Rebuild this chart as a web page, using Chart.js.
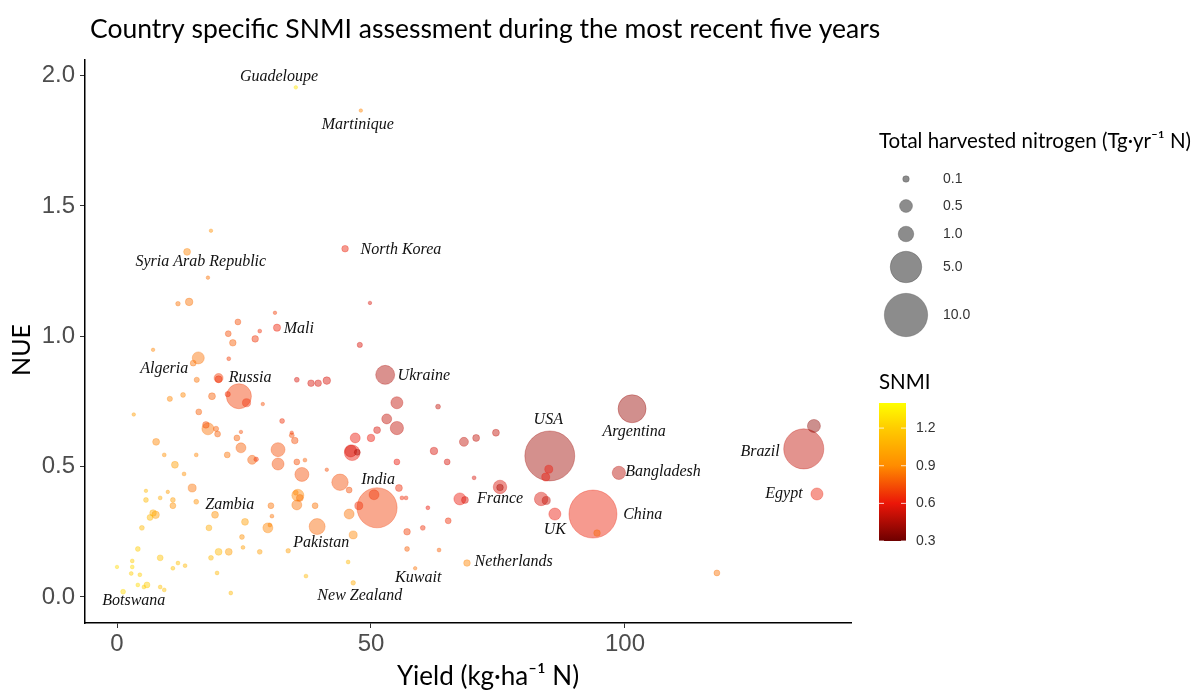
<!DOCTYPE html>
<html>
<head>
<meta charset="utf-8">
<script src="https://cdn.jsdelivr.net/npm/chart.js@4.4.0/dist/chart.umd.min.js"></script>
<style>
html, body { margin: 0; padding: 0; background: #fff; }
</style>
</head>
<body>
<canvas id="myChart" width="1200" height="691"></canvas>
<script>
// yield (kg/ha N), NUE, harvested N (Tg/yr N), SNMI  -- one entry per country
const yieldVals = [
  35.2, 48.0, 44.9, 13.8, 18.5, 17.9, 12.0, 14.2, 31.1, 23.8,
  28.1, 31.5, 21.9, 22.8, 27.2, 49.8, 47.8, 7.1, 22.0, 16.0,
  15.0, 20.0, 20.0, 15.7, 24.0, 21.8, 25.5, 35.4, 38.2, 39.6,
  41.3, 52.8, 18.7, 28.7, 16.1, 10.4, 13.0, 3.3, 32.5, 17.9,
  17.5, 19.5, 19.8, 24.4, 23.6, 24.4, 21.7, 26.6, 27.4, 34.4,
  34.4, 35.0, 31.7, 31.7, 35.4, 36.4, 35.6, 35.2, 36.0, 35.4,
  39.0, 41.3, 43.9, 45.7, 45.7, 47.6, 46.3, 46.0, 47.3, 46.9,
  50.0, 51.2, 53.1, 55.1, 55.1, 63.2, 62.4, 55.1, 65.0, 68.3,
  70.7, 74.6, 70.3, 75.4, 75.4, 67.5, 68.5, 61.2, 65.2, 60.2,
  57.1, 55.5, 56.1, 56.9, 51.2, 50.6, 46.5, 39.4, 30.1, 33.7,
  45.5, 37.2, 46.5, 57.1, 63.4, 68.9, 58.7, 7.7, 9.3, 15.6,
  11.4, 13.2, 14.8, 5.7, 10.0, 5.7, 8.5, 11.0, 11.0, 15.6,
  7.1, 7.6, 6.5, 19.3, 30.3, 30.5, 25.2, 29.7, 4.9, 18.1,
  24.6, 24.8, 20.0, 22.0, 28.1, 18.5, 4.1, 8.5, 3.0, 11.0,
  12.0, 13.4, 3.0, 2.8, 4.5, 5.9, 5.3, 4.1, 8.5, 9.3,
  1.2, 19.7, 22.4, 0.0, 85.2, 85.0, 84.4, 83.5, 84.5, 86.2,
  93.7, 94.5, 101.4, 98.8, 118.1, 135.2, 137.2, 137.8, 37.0
];
const nueVals = [
  1.955, 1.866, 1.336, 1.324, 1.405, 1.225, 1.125, 1.132, 1.090, 1.055,
  1.020, 1.033, 1.010, 0.975, 0.990, 1.128, 0.967, 0.948, 0.914, 0.917,
  0.897, 0.840, 0.835, 0.833, 0.770, 0.778, 0.745, 0.833, 0.820, 0.820,
  0.830, 0.852, 0.770, 0.740, 0.710, 0.760, 0.775, 0.700, 0.675, 0.645,
  0.660, 0.645, 0.625, 0.633, 0.610, 0.572, 0.545, 0.526, 0.528, 0.630,
  0.620, 0.600, 0.565, 0.510, 0.518, 0.470, 0.390, 0.400, 0.380, 0.353,
  0.350, 0.488, 0.440, 0.410, 0.318, 0.350, 0.553, 0.560, 0.555, 0.610,
  0.610, 0.640, 0.683, 0.745, 0.648, 0.730, 0.560, 0.518, 0.518, 0.595,
  0.610, 0.630, 0.457, 0.422, 0.420, 0.376, 0.372, 0.342, 0.292, 0.265,
  0.250, 0.418, 0.380, 0.380, 0.342, 0.392, 0.238, 0.270, 0.276, 0.177,
  0.134, 0.080, 0.054, 0.184, 0.180, 0.130, 0.110, 0.595, 0.545, 0.545,
  0.507, 0.472, 0.418, 0.407, 0.403, 0.372, 0.380, 0.372, 0.350, 0.365,
  0.322, 0.315, 0.305, 0.315, 0.350, 0.310, 0.288, 0.265, 0.265, 0.265,
  0.230, 0.190, 0.173, 0.173, 0.173, 0.150, 0.184, 0.150, 0.138, 0.110,
  0.130, 0.120, 0.115, 0.090, 0.085, 0.046, 0.038, 0.046, 0.038, 0.027,
  0.020, 0.092, 0.015, 0.115, 0.541, 0.490, 0.460, 0.376, 0.370, 0.318,
  0.318, 0.245, 0.722, 0.476, 0.092, 0.568, 0.656, 0.395, 0.525
];
const harvestN = [
  0.01, 0.01, 0.10, 0.12, 0.01, 0.01, 0.04, 0.16, 0.01, 0.08,
  0.02, 0.14, 0.08, 0.10, 0.10, 0.01, 0.06, 0.01, 0.02, 0.44,
  0.08, 0.25, 0.12, 0.06, 3.35, 0.06, 0.20, 0.05, 0.10, 0.10,
  0.16, 1.85, 0.12, 0.01, 0.08, 0.06, 0.05, 0.01, 0.05, 0.44,
  0.10, 0.06, 0.08, 0.01, 0.08, 0.31, 0.08, 0.25, 0.04, 0.01,
  0.05, 0.10, 0.69, 0.44, 0.08, 0.69, 0.44, 0.05, 0.12, 0.31,
  0.08, 0.01, 1.20, 0.08, 0.31, 0.19, 1.00, 0.44, 0.08, 0.31,
  0.16, 0.12, 0.31, 0.44, 0.55, 0.05, 0.16, 0.08, 0.08, 0.25,
  0.12, 0.12, 0.02, 0.60, 0.10, 0.44, 0.12, 0.02, 0.08, 0.05,
  0.10, 0.12, 0.02, 0.02, 8.60, 0.31, 0.19, 1.10, 0.02, 0.04,
  0.02, 0.02, 0.04, 0.05, 0.02, 0.10, 0.01, 0.12, 0.02, 0.02,
  0.12, 0.02, 0.19, 0.01, 0.01, 0.05, 0.02, 0.05, 0.08, 0.05,
  0.10, 0.16, 0.08, 0.12, 0.08, 0.02, 0.12, 0.31, 0.05, 0.08,
  0.05, 0.02, 0.12, 0.12, 0.05, 0.05, 0.05, 0.08, 0.02, 0.02,
  0.02, 0.02, 0.02, 0.02, 0.02, 0.08, 0.02, 0.02, 0.02, 0.02,
  0.05, 0.02, 0.02, 0.01, 13.4, 0.19, 0.19, 0.60, 0.20, 0.44,
  12.4, 0.10, 4.10, 0.55, 0.08, 8.60, 0.50, 0.44, 0.02
];
const snmiVals = [
  1.30, 0.88, 0.62, 0.88, 0.92, 0.83, 0.83, 0.83, 0.70, 0.74,
  0.66, 0.63, 0.74, 0.78, 0.68, 0.55, 0.55, 0.88, 0.70, 0.83,
  0.83, 0.70, 0.66, 0.83, 0.70, 0.66, 0.66, 0.55, 0.55, 0.55,
  0.55, 0.45, 0.78, 0.74, 0.78, 0.88, 0.88, 0.98, 0.66, 0.83,
  0.74, 0.78, 0.78, 0.74, 0.78, 0.78, 0.83, 0.78, 0.68, 0.70,
  0.74, 0.74, 0.74, 0.74, 0.74, 0.74, 0.88, 0.88, 0.83, 0.83,
  0.83, 0.74, 0.74, 0.74, 0.83, 0.66, 0.60, 0.55, 0.45, 0.60,
  0.60, 0.55, 0.50, 0.50, 0.50, 0.50, 0.55, 0.60, 0.55, 0.50,
  0.50, 0.50, 0.55, 0.55, 0.45, 0.60, 0.55, 0.60, 0.66, 0.66,
  0.70, 0.65, 0.65, 0.65, 0.70, 0.68, 0.88, 0.80, 0.88, 0.98,
  1.10, 1.10, 1.04, 0.78, 0.78, 0.88, 0.83, 0.88, 0.92, 0.88,
  0.98, 0.92, 0.83, 1.10, 0.98, 1.10, 1.04, 0.98, 0.92, 0.92,
  1.04, 0.98, 1.10, 0.92, 0.83, 0.83, 0.98, 0.88, 1.10, 1.04,
  0.92, 0.98, 1.10, 0.98, 0.98, 1.10, 1.20, 1.15, 1.20, 1.15,
  1.15, 1.10, 1.25, 1.20, 1.20, 1.20, 1.20, 1.25, 1.15, 1.15,
  1.25, 1.10, 1.10, 1.25, 0.42, 0.60, 0.60, 0.55, 0.50, 0.60,
  0.62, 0.80, 0.40, 0.48, 0.83, 0.50, 0.38, 0.62, 0.78
];

// annotated countries (text anchored in data units)
const labelNames = ['Guadeloupe', 'Martinique', 'North Korea', 'Syria Arab Republic', 'Mali', 'Algeria',
  'Russia', 'Ukraine', 'USA', 'Argentina', 'Brazil', 'Bangladesh', 'Egypt', 'India', 'France', 'UK',
  'China', 'Zambia', 'Pakistan', 'Netherlands', 'Kuwait', 'New Zealand', 'Botswana'];
const labelX = [31.9, 47.4, 55.9, 16.5, 35.8, 9.3, 26.2, 60.4, 84.9, 101.8, 126.6, 107.5, 131.3,
  51.4, 75.4, 86.2, 103.5, 22.2, 40.2, 78.1, 59.3, 47.8, 3.3];
const labelY = [1.997, 1.812, 1.332, 1.286, 1.029, 0.875, 0.841, 0.848, 0.679, 0.633, 0.557, 0.48, 0.395,
  0.449, 0.376, 0.257, 0.315, 0.353, 0.207, 0.134, 0.073, 0.004, -0.015];

const xTicks = [0, 50, 100];
const yTicks = [0, 0.5, 1.0, 1.5, 2.0];
const sizeBreaks = [0.1, 0.5, 1.0, 5.0, 10.0];
const snmiTicks = [0.3, 0.6, 0.9, 1.2];

// harvested N -> radius in px (matches the size legend)
const sizeStops = [[0, 1.6], [0.1, 3.3], [0.5, 6.5], [1, 7.8], [5, 15.8], [10, 21.7], [15, 26.5]];
function radius(v) {
  for (let i = 1; i < sizeStops.length; i++) {
    const [v0, r0] = sizeStops[i - 1], [v1, r1] = sizeStops[i];
    if (v <= v1) return r0 + (r1 - r0) * (v - v0) / (v1 - v0);
  }
  return sizeStops[sizeStops.length - 1][1];
}

const colStops = [[0.3, [110, 0, 0]], [0.6, [235, 22, 8]], [0.9, [255, 140, 0]], [1.2, [255, 204, 0]], [1.4, [255, 255, 0]]];
function snmiRGB(v) {
  if (v <= colStops[0][0]) return colStops[0][1];
  for (let i = 1; i < colStops.length; i++) {
    const [v0, c0] = colStops[i - 1], [v1, c1] = colStops[i];
    if (v <= v1) {
      const t = (v - v0) / (v1 - v0);
      return c0.map((c, k) => Math.round(c + (c1[k] - c) * t));
    }
  }
  return colStops[colStops.length - 1][1];
}
function snmiColor(v, a) {
  const c = snmiRGB(v);
  return `rgba(${c[0]},${c[1]},${c[2]},${a})`;
}

// big bubbles first so the small ones stay visible on top
const order = yieldVals.map((_, i) => i).sort((a, b) => harvestN[b] - harvestN[a]);
const points = order.map(i => ({ x: yieldVals[i], y: nueVals[i], r: radius(harvestN[i]), s: snmiVals[i] }));

const sansFont = 'Lato, "Open Sans", sans-serif';
const tickFont = '"Liberation Sans Narrow", "Liberation Sans", sans-serif';

const labelPlugin = {
  id: 'countryLabels',
  afterDatasetsDraw(chart) {
    const { ctx, scales: { x, y } } = chart;
    ctx.save();
    ctx.font = 'italic 16px "Liberation Serif", serif';
    ctx.fillStyle = '#111';
    ctx.textAlign = 'center';
    ctx.textBaseline = 'middle';
    labelNames.forEach((t, i) => {
      ctx.fillText(t, x.getPixelForValue(labelX[i]), y.getPixelForValue(labelY[i]));
    });
    ctx.restore();
  }
};

const decorPlugin = {
  id: 'decor',
  afterDraw(chart) {
    const ctx = chart.ctx;
    ctx.save();
    ctx.fillStyle = '#000';
    ctx.textBaseline = 'middle';

    // main title
    ctx.font = '26.5px ' + sansFont;
    ctx.textAlign = 'left';
    ctx.fillText('Country specific SNMI assessment during the most recent five years', 90, 29);

    // axis titles
    ctx.font = '26px ' + sansFont;
    ctx.textAlign = 'center';
    ctx.fillText('Yield (kg·ha⁻¹ N)', 488, 677);
    ctx.save();
    ctx.translate(22, 350);
    ctx.rotate(-Math.PI / 2);
    ctx.font = '25px ' + sansFont;
    ctx.fillText('NUE', 0, 0);
    ctx.restore();

    // size legend
    ctx.textAlign = 'left';
    ctx.font = '20.5px ' + sansFont;
    ctx.fillText('Total harvested nitrogen (Tg·yr⁻¹ N)', 879, 141);
    const sizeY = [179, 206, 234, 267, 315];
    ctx.font = '14px "Liberation Sans", Arial, sans-serif';
    sizeBreaks.forEach((v, i) => {
      ctx.beginPath();
      ctx.arc(906, sizeY[i], radius(v), 0, Math.PI * 2);
      ctx.fillStyle = 'rgba(0,0,0,0.45)';
      ctx.fill();
      ctx.strokeStyle = 'rgba(0,0,0,0.2)';
      ctx.lineWidth = 1;
      ctx.stroke();
      ctx.fillStyle = '#333';
      ctx.fillText(v.toFixed(1), 943, sizeY[i]);
    });

    // SNMI colour bar
    ctx.fillStyle = '#000';
    ctx.font = '20.5px ' + sansFont;
    ctx.fillText('SNMI', 879, 382);
    const barX = 879, barW = 27, barTop = 403, barBot = 541, vMin = 0.3, vMax = 1.4;
    const grad = ctx.createLinearGradient(0, barBot, 0, barTop);
    colStops.forEach(([v, c]) => grad.addColorStop((v - vMin) / (vMax - vMin), `rgb(${c[0]},${c[1]},${c[2]})`));
    ctx.fillStyle = grad;
    ctx.fillRect(barX, barTop, barW, barBot - barTop);
    ctx.font = '14px "Liberation Sans", Arial, sans-serif';
    snmiTicks.forEach(v => {
      const py = barBot - (v - vMin) / (vMax - vMin) * (barBot - barTop);
      ctx.strokeStyle = 'rgba(255,255,255,0.8)';
      ctx.lineWidth = 1;
      ctx.beginPath();
      ctx.moveTo(barX, py); ctx.lineTo(barX + 5, py);
      ctx.moveTo(barX + barW - 5, py); ctx.lineTo(barX + barW, py);
      ctx.stroke();
      ctx.fillStyle = '#333';
      ctx.fillText(v.toFixed(1), 916, py);
    });
    ctx.restore();
  }
};

document.addEventListener('DOMContentLoaded', function () {
  const ctx = document.getElementById('myChart');

  new Chart(ctx, {
    type: 'bubble',
    data: {
      datasets: [{
        label: 'Countries',
        data: points,
        backgroundColor: c => snmiColor(c.raw ? c.raw.s : 1, 0.45),
        borderColor: c => snmiColor(c.raw ? c.raw.s : 1, 0.3),
        borderWidth: 1
      }]
    },
    options: {
      responsive: false,
      animation: false,
      layout: { padding: { top: 60, right: 349, left: 0, bottom: 0 } },
      plugins: {
        legend: { display: false },
        tooltip: { enabled: false }
      },
      scales: {
        x: {
          type: 'linear',
          min: -6.3,
          max: 144.5,
          afterBuildTicks: s => { s.ticks = xTicks.map(v => ({ value: v })); },
          afterFit: s => { s.height = 68; },
          grid: { drawOnChartArea: false, drawTicks: true, tickLength: 5, color: '#333' },
          border: { display: true, color: '#000', width: 1.5 },
          ticks: { font: { family: tickFont, size: 24 }, color: '#4d4d4d', padding: 2, callback: v => v }
        },
        y: {
          type: 'linear',
          min: -0.1,
          max: 2.06,
          afterBuildTicks: s => { s.ticks = yTicks.map(v => ({ value: v })); },
          afterFit: s => { s.width = 85; },
          grid: { drawOnChartArea: false, drawTicks: true, tickLength: 5, color: '#333' },
          border: { display: true, color: '#000', width: 1.5 },
          ticks: { font: { family: tickFont, size: 24 }, color: '#4d4d4d', padding: 5, callback: v => v.toFixed(1) }
        }
      }
    },
    plugins: [labelPlugin, decorPlugin]
  });
});
</script>
</body>
</html>
